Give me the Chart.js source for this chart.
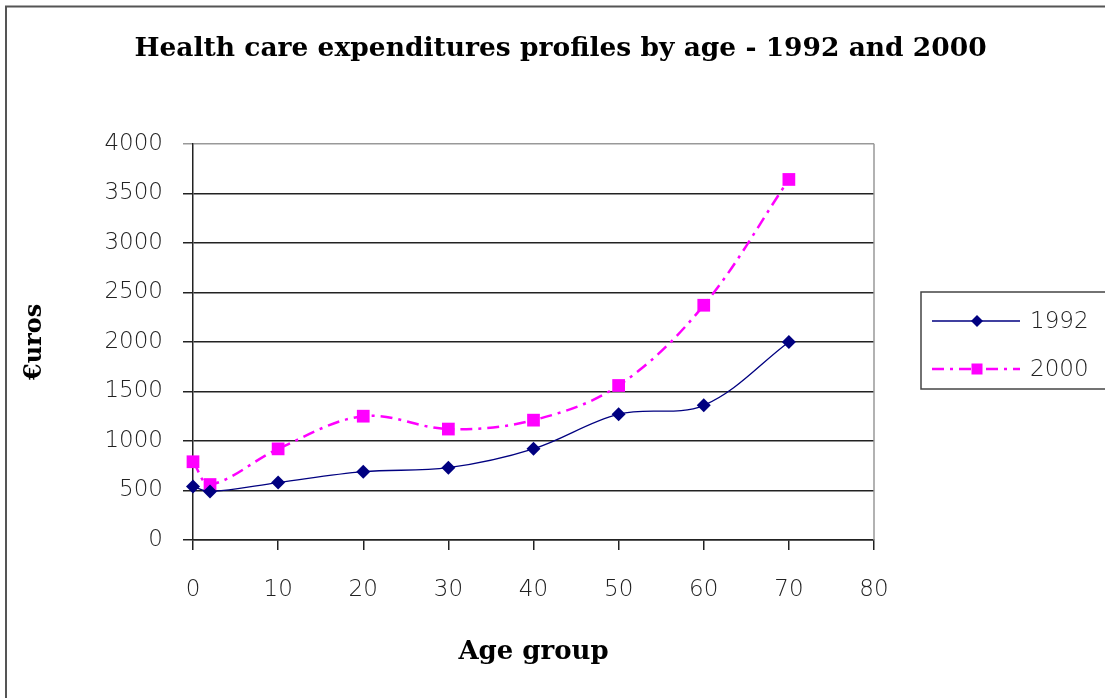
<!DOCTYPE html>
<html>
<head>
<meta charset="utf-8">
<script src="https://cdn.jsdelivr.net/npm/chart.js@4.4.1/dist/chart.umd.min.js"></script>
<style>
  html, body { margin: 0; padding: 0; background: #fff; }
  #wrap { width: 1105px; height: 698px; }
</style>
</head>
<body>
<div id="wrap"><canvas id="c" width="1105" height="698"></canvas></div>
<script>
const chartTitle = 'Health care expenditures profiles by age - 1992 and 2000';
const xTitle = 'Age group';
const yTitle = '€uros';
const seriesNames = ['1992', '2000'];
const ages = [0, 2, 10, 20, 30, 40, 50, 60, 70];
const exp1992 = [540, 490, 580, 690, 730, 920, 1270, 1360, 2000];
const exp2000 = [790, 560, 920, 1250, 1120, 1210, 1560, 2370, 3640];
const xMin = 0, xMax = 80, xStep = 10;
const yMin = 0, yMax = 4000, yStep = 500;

const tickFont = { family: 'DejaVu Sans', size: 23, weight: '200' };
const NAVY = '#000080', MAGENTA = '#FF00FF';
const DASH = [12, 6, 3, 6];

const frame = {
  id: 'frame',
  beforeDraw(chart) {
    const ctx = chart.ctx;
    ctx.save();
    ctx.fillStyle = '#fff';
    ctx.fillRect(0, 0, chart.width, chart.height);
    ctx.restore();
  },
  afterDraw(chart) {
    const ctx = chart.ctx, a = chart.chartArea;
    ctx.save();
    ctx.strokeStyle = '#555';
    ctx.lineWidth = 2;
    ctx.beginPath();
    ctx.moveTo(6, chart.height);
    ctx.lineTo(6, 6.5);
    ctx.lineTo(chart.width, 6.5);
    ctx.stroke();
    ctx.strokeStyle = '#999';
    ctx.lineWidth = 1.5;
    ctx.beginPath();
    ctx.moveTo(a.right, a.top);
    ctx.lineTo(a.right, a.bottom);
    ctx.stroke();
    ctx.strokeStyle = '#444';
    ctx.lineWidth = 1.5;
    ctx.strokeRect(921, 292, 220, 97);
    const ds = chart.data.datasets;
    const rows = [321, 369];
    ds.forEach((d, i) => {
      const y = rows[i];
      ctx.strokeStyle = d.borderColor;
      ctx.lineWidth = d.borderWidth;
      ctx.setLineDash(d.borderDash || []);
      ctx.beginPath();
      ctx.moveTo(932, y);
      ctx.lineTo(1020, y);
      ctx.stroke();
      ctx.setLineDash([]);
      ctx.fillStyle = d.backgroundColor;
      if (d.pointStyle === 'rectRot') {
        const r = 6;
        ctx.beginPath();
        ctx.moveTo(977, y - r); ctx.lineTo(977 + r, y); ctx.lineTo(977, y + r); ctx.lineTo(977 - r, y);
        ctx.closePath(); ctx.fill();
      } else {
        ctx.fillRect(977 - 5.5, y - 5.5, 11, 11);
      }
      ctx.fillStyle = '#222';
      ctx.font = tickFont.weight + ' ' + tickFont.size + 'px "' + tickFont.family + '"';
      ctx.textBaseline = 'middle';
      ctx.textAlign = 'left';
      ctx.fillText(d.label, 1030, y + 1);
    });
    ctx.restore();
  }
};

new Chart(document.getElementById('c'), {
  type: 'line',
  data: {
    datasets: [
      {
        label: seriesNames[0],
        data: ages.map((a, i) => ({ x: a, y: exp1992[i] })),
        borderColor: NAVY,
        backgroundColor: NAVY,
        borderWidth: 1.3,
        pointStyle: 'rectRot',
        pointRadius: 7,
        pointBorderWidth: 0,
        tension: 0.35,
        clip: false
      },
      {
        label: seriesNames[1],
        data: ages.map((a, i) => ({ x: a, y: exp2000[i] })),
        borderColor: MAGENTA,
        backgroundColor: MAGENTA,
        borderWidth: 2.5,
        borderDash: DASH,
        pointStyle: 'rect',
        pointRadius: 9,
        pointBorderWidth: 0,
        tension: 0.35,
        clip: false
      }
    ]
  },
  options: {
    responsive: false,
    animation: false,
    layout: { padding: { left: 16, top: 0, right: 0, bottom: 0 } },
    plugins: {
      legend: { display: false },
      tooltip: { enabled: false },
      title: {
        display: true,
        text: chartTitle,
        color: '#000',
        font: { family: 'DejaVu Serif', weight: 'bold', size: 26.5 },
        padding: { top: 33, bottom: 79 }
      }
    },
    scales: {
      x: {
        type: 'linear',
        min: xMin, max: xMax,
        afterFit(s) { s.height = 158; },
        ticks: { stepSize: xStep, color: '#222', font: tickFont, padding: 26, maxRotation: 0,
                 callback: (v) => String(v) },
        grid: { drawOnChartArea: false, tickLength: 10, color: '#222', lineWidth: 1.5 },
        border: { color: '#222', width: 1.5 },
        title: {
          display: true, text: xTitle, color: '#000',
          font: { family: 'DejaVu Serif', weight: 'bold', size: 26 },
          padding: { top: 0, bottom: 30 }
        }
      },
      y: {
        min: yMin, max: yMax,
        afterFit(s) { s.width = 177; },
        ticks: { stepSize: yStep, color: '#222', font: tickFont, padding: 20,
                 callback: (v) => String(v) },
        grid: {
          tickLength: 10,
          lineWidth: 1.5,
          color: (c) => (c.tick && c.tick.value === yMax) ? '#999' : '#222'
        },
        border: { color: '#222', width: 1.5 },
        title: {
          display: true, text: yTitle, color: '#000',
          font: { family: 'DejaVu Serif', weight: 'bold', size: 24 },
          padding: { top: 4, bottom: 0 }
        }
      },
      y2: {
        position: 'right',
        display: true,
        afterFit(s) { s.width = 231; },
        ticks: { display: false },
        grid: { display: false, drawOnChartArea: false },
        border: { display: false }
      }
    }
  },
  plugins: [frame]
});
</script>
</body>
</html>
